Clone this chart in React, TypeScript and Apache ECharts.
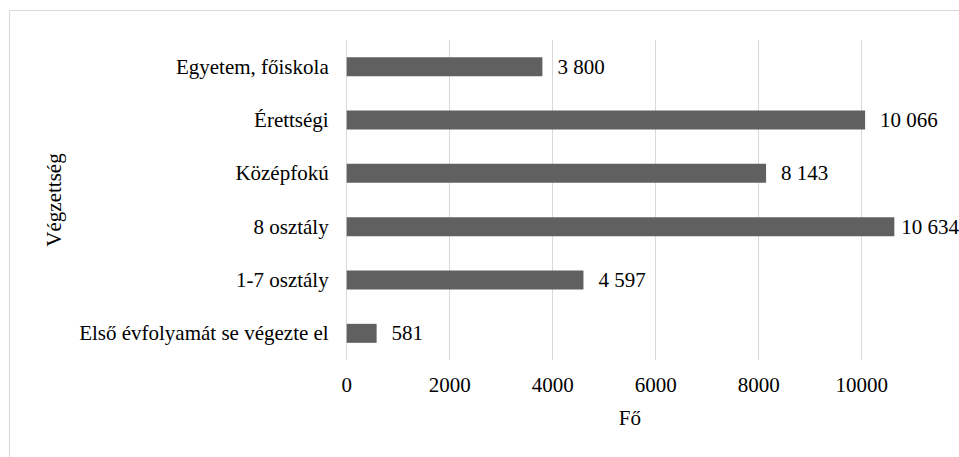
import React, { useEffect, useRef } from "react";
import * as echarts from "echarts";

const categories = [
  "Egyetem, főiskola",
  "Érettségi",
  "Középfokú",
  "8 osztály",
  "1-7 osztály",
  "Első évfolyamát se végezte el",
];
const values = [3800, 10066, 8143, 10634, 4597, 581];
const xAxisName = "Fő";
const yAxisName = "Végzettség";

const FONT = "Liberation Serif";

function fmtSpace(v: number): string {
  return String(v).replace(/\B(?=(\d{3})+(?!\d))/g, " ");
}

export default function App() {
  const ref = useRef<HTMLDivElement>(null);
  useEffect(() => {
    if (!ref.current) return;
    const chart = echarts.init(ref.current, undefined, { renderer: "svg" });
    const W = 959;
    chart.setOption({
      animation: false,
      backgroundColor: "#ffffff",
      textStyle: { fontFamily: FONT },
      graphic: [
        {
          type: "rect",
          shape: { x: 9.5, y: 10.5, width: 2000, height: 2000 },
          style: { fill: "none", stroke: "#d9d9d9", lineWidth: 1 },
          silent: true,
        },
      ],
      grid: { left: 346.7, top: 40, width: 566.5, height: 320 },
      xAxis: {
        type: "value",
        min: 0,
        max: 11000,
        interval: 2000,
        name: xAxisName,
        nameLocation: "middle",
        nameGap: 47,
        nameTextStyle: { fontFamily: FONT, fontSize: 21, color: "#000" },
        axisLine: { show: false },
        axisTick: { show: false },
        axisLabel: {
          fontFamily: FONT,
          fontSize: 21,
          color: "#000",
          margin: 14,
          showMaxLabel: false,
          formatter: (v: number) => String(v),
        },
        splitLine: {
          show: true,
          showMaxLine: false,
          lineStyle: { color: "#d9d9d9", width: 1 },
        },
      },
      yAxis: {
        type: "category",
        data: categories,
        inverse: true,
        name: yAxisName,
        nameLocation: "middle",
        nameGap: 282,
        nameTextStyle: { fontFamily: FONT, fontSize: 21, color: "#000" },
        axisLine: { show: false },
        axisTick: { show: false },
        axisLabel: { fontFamily: FONT, fontSize: 21, color: "#000", margin: 18 },
        splitLine: { show: false },
      },
      series: [
        {
          type: "bar",
          data: values,
          barWidth: 19,
          itemStyle: { color: "#606060" },
          label: {
            show: true,
            position: "right",
            distance: 15,
            fontFamily: FONT,
            fontSize: 21,
            color: "#000",
            formatter: (p: any) => fmtSpace(p.value),
          },
          labelLayout: (params: any) => {
            const r = params.labelRect;
            const limit = W;
            if (r.x + r.width > limit) {
              return {
                x: limit - r.width,
                y: r.y + r.height / 2,
                align: "left",
                verticalAlign: "middle",
              };
            }
            return {};
          },
        },
      ],
    });
    return () => chart.dispose();
  }, []);
  return (
    <div
      ref={ref}
      style={{ position: "fixed", left: 0, top: 0, width: 959, height: 457 }}
    />
  );
}
